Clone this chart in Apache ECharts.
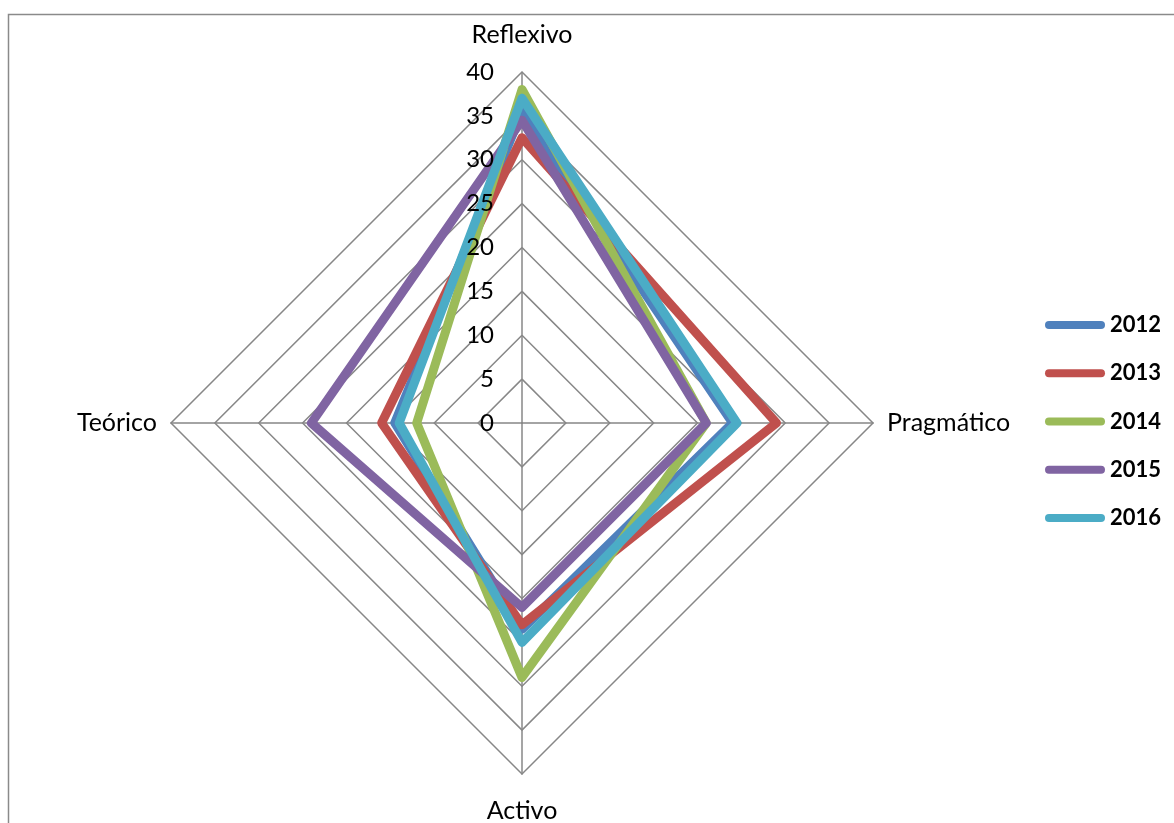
<!DOCTYPE html>
<html>
<head>
<meta charset="utf-8">
<script src="https://cdn.jsdelivr.net/npm/echarts@6/dist/echarts.min.js"></script>
<style>
  html, body { margin: 0; padding: 0; background: #fff; }
  #chart { width: 1174px; height: 823px; }
</style>
</head>
<body>
<div id="chart"></div>
<script>
// Learning-style dimensions in ECharts radar order
// (counter-clockwise from the top: top, left, bottom, right)
const indicators = ['Reflexivo', 'Teórico', 'Activo', 'Pragmático'];
const axisMax = 40;

// Scores per year, in the same order as the indicators
const years = ['2012', '2013', '2014', '2015', '2016'];
const v2012 = [35.5, 14.5, 23.5, 24];
const v2013 = [32.5, 16, 23, 29];
const v2014 = [38, 12, 29, 21];
const v2015 = [34.5, 24, 21, 21];
const v2016 = [37, 14, 25, 24.5];
const seriesValues = [v2012, v2013, v2014, v2015, v2016];

const colors = ['#4F81BD', '#C0504D', '#9BBB59', '#8064A2', '#4BACC6'];
const fontFamily = 'Lato, "Open Sans", sans-serif';

const chart = echarts.init(document.getElementById('chart'));

const baseRadar = {
  center: [522, 423],
  radius: 351,
  shape: 'polygon',
  splitNumber: 8,
  startAngle: 90
};

// second, overlaid radar carries only the value scale so it sits above the lines
const scaleIndicators = indicators.map((name, i) => {
  const ind = { name: '', min: 0, max: axisMax };
  if (i === 0) {
    ind.axisLabel = {
      show: true, color: '#000', fontSize: 24, fontFamily: fontFamily,
      margin: 28, showMinLabel: true, showMaxLabel: true
    };
  }
  return ind;
});

chart.setOption({
  animation: false,
  backgroundColor: '#fff',
  color: colors,
  graphic: [{
    type: 'rect',
    shape: { x: 8.5, y: 14.5, width: 1300, height: 900 },
    style: { fill: 'none', stroke: '#8a8a8a', lineWidth: 1.5 },
    silent: true
  }],
  legend: {
    orient: 'vertical',
    left: 1045,
    top: 314,
    padding: 0,
    itemWidth: 60,
    itemHeight: 9,
    itemGap: 26.25,
    icon: 'path://M4,0 L56,0 A4,4 0 0 1 56,8 L4,8 A4,4 0 0 1 4,0 Z',
    textStyle: { color: '#000', fontSize: 22, fontWeight: 'bold', fontFamily: fontFamily, lineHeight: 22 },
    data: years
  },
  radar: [
    Object.assign({}, baseRadar, {
      z: 0,
      indicator: indicators.map(name => ({ name: name, min: 0, max: axisMax })),
      axisName: { color: '#000', fontSize: 25, fontFamily: fontFamily, lineHeight: 46 },
      nameGap: 14,
      axisLine: { lineStyle: { color: '#878787', width: 1.5 } },
      splitLine: { lineStyle: { color: '#878787', width: 1.5 } },
      splitArea: { show: false },
      axisTick: { show: false },
      axisLabel: { show: false }
    }),
    Object.assign({}, baseRadar, {
      z: 10,
      indicator: scaleIndicators,
      axisName: { show: false },
      axisLine: { show: false },
      splitLine: { show: false },
      splitArea: { show: false },
      axisTick: { show: false },
      axisLabel: { show: false }
    })
  ],
  series: [{
    type: 'radar',
    radarIndex: 0,
    symbol: 'none',
    data: years.map((y, i) => ({
      name: y,
      value: seriesValues[i],
      lineStyle: { color: colors[i], width: 9, join: 'round', cap: 'round' },
      itemStyle: { color: colors[i] }
    }))
  }]
});
</script>
</body>
</html>
